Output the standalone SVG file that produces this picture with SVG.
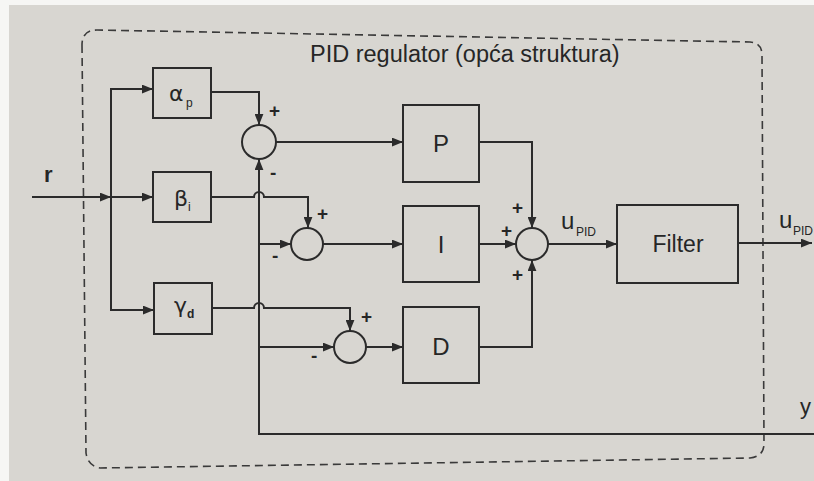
<svg xmlns="http://www.w3.org/2000/svg" width="814" height="481" viewBox="0 0 814 481">
<defs>
<marker id="arr" viewBox="0 0 10 8" refX="10" refY="4" markerWidth="11" markerHeight="9" markerUnits="userSpaceOnUse" orient="auto">
<path d="M0,0 L10,4 L0,8 Z" fill="#2b2b2b"/>
</marker>
<style>
.b{fill:none;stroke:#2b2b2b;stroke-width:2}
.w{fill:none;stroke:#2b2b2b;stroke-width:2}
.c{fill:none;stroke:#2b2b2b;stroke-width:2}
.t{font-family:"Liberation Sans",Arial,sans-serif;fill:#262626}
.s{font-family:"Liberation Sans",Arial,sans-serif;fill:#262626;font-size:19px;font-weight:bold}
.g{font-family:"DejaVu Sans","Liberation Sans",sans-serif;fill:#262626;font-size:22px}
.sub{font-family:"Liberation Sans",Arial,sans-serif;fill:#262626;font-size:12px}
</style>
</defs>
<rect x="0" y="0" width="814" height="481" fill="#f6f6f4"/>
<rect x="9" y="5" width="805" height="476" fill="#d8d6d1"/>
<path d="M82,45 L86,453 Q88,466 100,468 L750,458 Q764,456 764,444 L762,55 Q762,43 750,42 L97,30 Q82,30 82,45 Z" fill="none" stroke="#3a3a3a" stroke-width="1.6" stroke-dasharray="8 5"/>
<text class="t" x="310" y="62" font-size="23.5">PID regulator (opća struktura)</text>

<g id="connectors">
<path class="w" d="M32,197 H111" marker-end="url(#arr)"/>
<path class="w" d="M111,197 V89 H153" marker-end="url(#arr)"/>
<path class="w" d="M111,197 H153" marker-end="url(#arr)"/>
<path class="w" d="M111,197 V310 H154" marker-end="url(#arr)"/>
<path class="w" d="M211,92 H259 V125" marker-end="url(#arr)"/>
<path class="w" d="M276,142 H403" marker-end="url(#arr)"/>
<path class="w" d="M814,434 H259 V159" marker-end="url(#arr)"/>
<path class="w" d="M211,197 H254 A5,5 0 0 1 264,197 H308 V228" marker-end="url(#arr)"/>
<path class="w" d="M259,244 H291" marker-end="url(#arr)"/>
<path class="w" d="M323,244 H403" marker-end="url(#arr)"/>
<path class="w" d="M212,308 H254 A5,5 0 0 1 264,308 H350 V331" marker-end="url(#arr)"/>
<path class="w" d="M259,347 H334" marker-end="url(#arr)"/>
<path class="w" d="M366,347 H403" marker-end="url(#arr)"/>
<path class="w" d="M479,142 H532 V228" marker-end="url(#arr)"/>
<path class="w" d="M479,244 H516" marker-end="url(#arr)"/>
<path class="w" d="M479,347 H532 V260" marker-end="url(#arr)"/>
<path class="w" d="M548,244 H617" marker-end="url(#arr)"/>
<path class="w" d="M738,243 H812" marker-end="url(#arr)"/>
</g>

<text class="t" x="44" y="182" font-size="22" font-weight="bold">r</text>
<text class="t" x="800" y="414" font-size="22">y</text>

<g id="alpha_p">
<rect class="b" x="153" y="68" width="58" height="50"/>
<text class="g" x="169" y="101">α</text><text class="sub" x="186" y="107">p</text>
</g>
<g id="beta_i">
<rect class="b" x="153" y="172" width="58" height="50"/>
<text class="g" x="174" y="206">β</text><text class="sub" x="188" y="211">i</text>
</g>
<g id="gamma_d">
<rect class="b" x="154" y="283" width="58" height="51"/>
<text class="g" x="174" y="313">γ</text><text class="sub" x="187" y="318" font-weight="bold">d</text>
</g>

<g id="sum1">
<circle class="c" cx="259" cy="142" r="17"/>
<text class="s" x="269" y="117">+</text>
<text class="s" x="270" y="179">-</text>
</g>
<g id="sum2">
<circle class="c" cx="307" cy="244" r="16"/>
<text class="s" x="317" y="220">+</text>
<text class="s" x="272" y="262">-</text>
</g>
<g id="sum3">
<circle class="c" cx="350" cy="347" r="16"/>
<text class="s" x="361" y="323">+</text>
<text class="s" x="311" y="362">-</text>
</g>
<g id="sum4">
<circle class="c" cx="532" cy="244" r="16"/>
<text class="s" x="512" y="214">+</text>
<text class="s" x="501" y="237">+</text>
<text class="s" x="512" y="281">+</text>
</g>

<g id="P">
<rect class="b" x="403" y="105" width="76" height="77"/>
<text class="t" x="441" y="152" font-size="24" text-anchor="middle">P</text>
</g>
<g id="I">
<rect class="b" x="403" y="206" width="76" height="76"/>
<text class="t" x="441" y="253" font-size="24" text-anchor="middle">I</text>
</g>
<g id="D">
<rect class="b" x="403" y="307" width="76" height="76"/>
<text class="t" x="441" y="355" font-size="24" text-anchor="middle">D</text>
</g>
<g id="Filter">
<rect class="b" x="617" y="205" width="121" height="78"/>
<text class="t" x="678" y="252" font-size="23" text-anchor="middle">Filter</text>
</g>

<text class="t" x="561" y="229" font-size="24">u</text><text class="sub" x="576" y="236">PID</text>
<text class="t" x="779" y="228" font-size="24">u</text><text class="sub" x="793" y="235" font-size="11">PID</text>
</svg>
